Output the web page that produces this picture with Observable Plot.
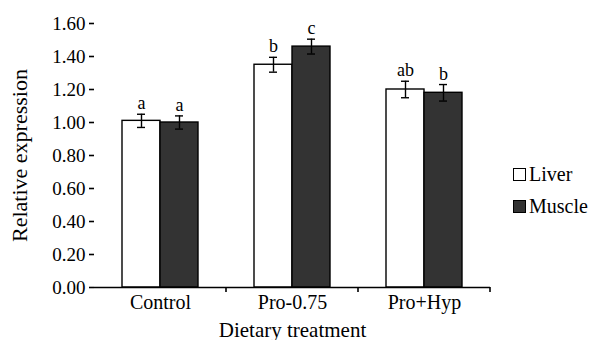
<!DOCTYPE html>
<html>
<head>
<meta charset="utf-8">
<script src="https://cdn.jsdelivr.net/npm/d3@7"></script>
<script src="https://cdn.jsdelivr.net/npm/@observablehq/plot@0.6"></script>
<style>
  html, body { margin: 0; padding: 0; background: white; }
  #wrap { position: relative; width: 590px; height: 340px; font-family: "Liberation Serif", "Times New Roman", serif; }
  #wrap svg, #wrap svg text { font-family: "Liberation Serif", "Times New Roman", serif; }
  #legend { position: absolute; left: 513px; top: 158px; font-size: 20px; color: #000; }
  .item { display: flex; align-items: center; height: 32px; }
  .sw { width: 11px; height: 11px; border: 1.5px solid #000; margin-right: 3px; }
</style>
</head>
<body>
<div id="wrap"><div id="legend"></div></div>
<script>
const categories = ["Control", "Pro-0.75", "Pro+Hyp"];
const series = ["Liver", "Muscle"];
const liverValues = [1.01, 1.35, 1.20];
const muscleValues = [1.00, 1.46, 1.18];
const liverErrors = [0.04, 0.045, 0.05];
const muscleErrors = [0.04, 0.045, 0.05];
const liverLetters = ["a", "b", "ab"];
const muscleLetters = ["a", "c", "b"];
const yTicks = [0, 0.2, 0.4, 0.6, 0.8, 1.0, 1.2, 1.4, 1.6];
const seriesColors = ["#ffffff", "#333333"];

const rows = [];
categories.forEach((c, i) => {
  rows.push({category: c, series: "Liver", value: liverValues[i], err: liverErrors[i], letter: liverLetters[i]});
  rows.push({category: c, series: "Muscle", value: muscleValues[i], err: muscleErrors[i], letter: muscleLetters[i]});
});

const font = "Liberation Serif, Times New Roman, serif";
const plot = Plot.plot({
  width: 590,
  height: 340,
  marginLeft: 93,
  marginRight: 100,
  marginTop: 23,
  marginBottom: 53,
  style: {fontFamily: font, background: "transparent", color: "#000", overflow: "visible"},
  fx: {domain: categories, padding: 0},
  x: {domain: series, paddingInner: 0, paddingOuter: 0.72, axis: null},
  y: {domain: [0, 1.6]},
  color: {domain: series, range: seriesColors},
  marks: [
    Plot.barY(rows, {fx: "category", x: "series", y: "value", fill: "series", stroke: "#000", strokeWidth: 1.4}),
    Plot.ruleX(rows, {fx: "category", x: "series", y1: d => d.value - d.err, y2: d => d.value + d.err, stroke: "#000", strokeWidth: 1.4}),
    Plot.tickY(rows, {fx: "category", x: "series", y: d => d.value - d.err, stroke: "#000", strokeWidth: 1.4, insetLeft: 15, insetRight: 15}),
    Plot.tickY(rows, {fx: "category", x: "series", y: d => d.value + d.err, stroke: "#000", strokeWidth: 1.4, insetLeft: 15, insetRight: 15}),
    Plot.text(rows, {fx: "category", x: "series", y: d => d.value + d.err, text: "letter", dy: -5, lineAnchor: "bottom", fontSize: 18, fill: "#000", fontFamily: font}),
    Plot.ruleY([0], {stroke: "#000", strokeWidth: 1.6}),
    Plot.axisY({ticks: yTicks, tickFormat: d => d.toFixed(2), tickSize: 5, tickPadding: 4, fontSize: 19, fontFamily: font, label: null, line: true, strokeWidth: 1.6}),
    Plot.axisY({ticks: [], label: "Relative expression", labelAnchor: "center", labelArrow: "none", labelOffset: 83, fontSize: 22, fontFamily: font}),
    Plot.axisFx({anchor: "bottom", tickSize: 0, tickPadding: 7, fontSize: 20, fontFamily: font, label: null}),
    Plot.axisFx({anchor: "bottom", ticks: [], label: "Dietary treatment", labelAnchor: "center", labelArrow: "none", labelOffset: 49, fontSize: 21, fontFamily: font})
  ]
});

// boundary ticks below the x axis, at the right edge of each category band
const fx = plot.scale("fx");
const ys = plot.scale("y");
const svg = d3.select(plot.tagName.toLowerCase() === "svg" ? plot : plot.querySelector("svg"));
const y0 = ys.apply(0);
svg.append("g").selectAll("line").data(categories).join("line")
  .attr("x1", c => fx.apply(c) + fx.bandwidth)
  .attr("x2", c => fx.apply(c) + fx.bandwidth)
  .attr("y1", y0).attr("y2", y0 + 5)
  .attr("stroke", "#000").attr("stroke-width", 1.6);

document.getElementById("wrap").prepend(plot);

const legend = d3.select("#legend");
series.forEach((s, i) => {
  const item = legend.append("div").attr("class", "item");
  item.append("div").attr("class", "sw").style("background", seriesColors[i]);
  item.append("span").text(s);
});
</script>
</body>
</html>
